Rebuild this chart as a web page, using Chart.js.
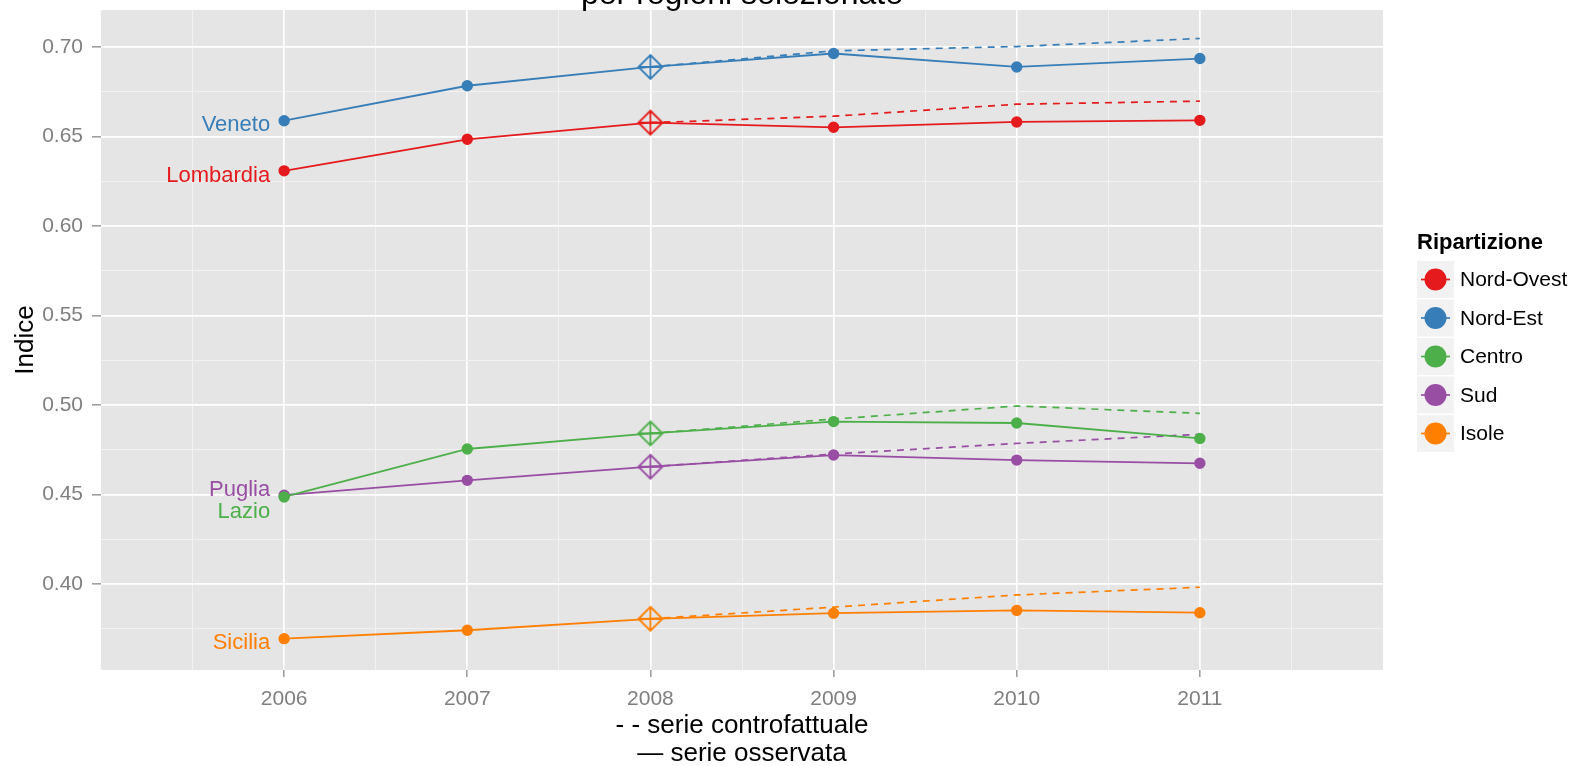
<!DOCTYPE html>
<html>
<head>
<meta charset="utf-8">
<title>Indice per regioni selezionate</title>
<script src="https://cdn.jsdelivr.net/npm/chart.js@4.4.1/dist/chart.umd.min.js"></script>
<style>
    html, body { margin: 0; padding: 0; background: #ffffff; }
    #wrap { position: relative; width: 1576px; height: 766px; }
</style>
</head>
<body>
<div id="wrap"><canvas id="chart" width="1576" height="766"></canvas></div>
<script>
// --- dati ---
const years = [2006, 2007, 2008, 2009, 2010, 2011];
const yearLabels = ['2006', '2007', '2008', '2009', '2010', '2011'];
const regions = ['Lombardia', 'Veneto', 'Lazio', 'Puglia', 'Sicilia'];
const ripartizioni = ['Nord-Ovest', 'Nord-Est', 'Centro', 'Sud', 'Isole'];

// serie osservata
const lombardiaObs = [0.6308, 0.6484, 0.6577, 0.6551, 0.6581, 0.6590];
const venetoObs    = [0.6588, 0.6783, 0.6888, 0.6963, 0.6888, 0.6935];
const lazioObs     = [0.4487, 0.4755, 0.4842, 0.4908, 0.4900, 0.4814];
const pugliaObs    = [0.4497, 0.4580, 0.4656, 0.4721, 0.4693, 0.4675];
const siciliaObs   = [0.3696, 0.3743, 0.3807, 0.3838, 0.3854, 0.3841];

// serie controfattuale (dal 2008)
const lombardiaCf = [null, null, 0.6577, 0.6613, 0.6680, 0.6697];
const venetoCf    = [null, null, 0.6888, 0.6978, 0.7002, 0.7047];
const lazioCf     = [null, null, 0.4842, 0.4922, 0.4995, 0.4954];
const pugliaCf    = [null, null, 0.4656, 0.4727, 0.4786, 0.4837];
const siciliaCf   = [null, null, 0.3807, 0.3872, 0.3940, 0.3983];

// assi
const xTicks = [2005.5, 2006, 2006.5, 2007, 2007.5, 2008, 2008.5, 2009, 2009.5, 2010, 2010.5, 2011, 2011.5];
const yTicks = [0.375, 0.40, 0.425, 0.45, 0.475, 0.50, 0.525, 0.55, 0.575, 0.60, 0.625, 0.65, 0.675, 0.70];
const yMajor = [0.40, 0.45, 0.50, 0.55, 0.60, 0.65, 0.70];
const yTickLabels = ['0.40', '0.45', '0.50', '0.55', '0.60', '0.65', '0.70'];

const observed = [lombardiaObs, venetoObs, lazioObs, pugliaObs, siciliaObs];
const counterfactual = [lombardiaCf, venetoCf, lazioCf, pugliaCf, siciliaCf];
const seriesColors = ['#E41A1C', '#377EB8', '#4DAF4A', '#984EA3', '#FF7F00'];

const FONT = '"Liberation Sans", Arial, Helvetica, sans-serif';
const diamondYear = 2008;

// rombo con croce (shape 9 di ggplot)
function diamondPlus(color) {
    const c = document.createElement('canvas');
    c.width = 28;
    c.height = 28;
    const g = c.getContext('2d');
    g.strokeStyle = color;
    g.lineWidth = 1.8;
    g.beginPath();
    g.moveTo(14, 2); g.lineTo(26, 14); g.lineTo(14, 26); g.lineTo(2, 14); g.closePath();
    g.moveTo(14, 2); g.lineTo(14, 26);
    g.moveTo(2, 14); g.lineTo(26, 14);
    g.stroke();
    return c;
}

const isMajorY = v => yMajor.some(m => Math.abs(m - v) < 1e-6);
const isMajorX = v => years.indexOf(v) !== -1;

const datasets = [];
regions.forEach((region, i) => {
    const color = seriesColors[i];
    const diamond = diamondPlus(color);
    datasets.push({
        label: region + ' controfattuale',
        data: years.map((yr, k) => ({ x: yr, y: counterfactual[i][k] })),
        borderColor: color,
        borderWidth: 1.7,
        borderDash: [7, 6],
        pointRadius: 0,
        fill: false,
        tension: 0,
        order: 2
    });
    datasets.push({
        label: region,
        data: years.map((yr, k) => ({ x: yr, y: observed[i][k] })),
        borderColor: color,
        backgroundColor: color,
        borderWidth: 1.8,
        pointRadius: 5,
        pointBorderWidth: 1.4,
        pointStyle: ctx => (ctx.raw && ctx.raw.x === diamondYear) ? diamond : 'circle',
        fill: false,
        tension: 0,
        order: 1
    });
});

// sfondo del pannello
const panelBackground = {
    id: 'panelBackground',
    beforeDraw(chart) {
        const { ctx, chartArea } = chart;
        ctx.save();
        ctx.fillStyle = '#E5E5E5';
        ctx.fillRect(chartArea.left, chartArea.top, chartArea.right - chartArea.left, chartArea.bottom - chartArea.top);
        ctx.restore();
    }
};

// titolo, etichette delle regioni e legenda
const labelOffsets = { Lombardia: 5, Veneto: 4, Lazio: 15, Puglia: -5, Sicilia: 4 };

const textLayer = {
    id: 'textLayer',
    afterDraw(chart) {
        const { ctx, chartArea } = chart;
        const xs = chart.scales.x;
        const ys = chart.scales.y;
        ctx.save();

        // titolo (tagliato in alto)
        ctx.fillStyle = '#000000';
        ctx.font = '32px ' + FONT;
        ctx.textAlign = 'center';
        ctx.textBaseline = 'alphabetic';
        ctx.fillText('per regioni selezionate', (chartArea.left + chartArea.right) / 2, 4);

        // etichette regioni a sinistra del 2006
        ctx.font = '22px ' + FONT;
        ctx.textAlign = 'right';
        ctx.textBaseline = 'middle';
        regions.forEach((region, i) => {
            const px = xs.getPixelForValue(years[0]) - 14;
            const py = ys.getPixelForValue(observed[i][0]) + labelOffsets[region];
            ctx.fillStyle = seriesColors[i];
            ctx.fillText(region, px, py);
        });

        // legenda
        const lx = chartArea.right + 34;
        ctx.textAlign = 'left';
        ctx.fillStyle = '#000000';
        ctx.font = 'bold 22px ' + FONT;
        ctx.fillText('Ripartizione', lx, 243);
        ripartizioni.forEach((name, i) => {
            const top = 261 + i * 38.5;
            const cy = top + 18.5;
            ctx.fillStyle = '#F2F2F2';
            ctx.fillRect(lx, top, 37, 37);
            ctx.strokeStyle = seriesColors[i];
            ctx.lineWidth = 1.7;
            ctx.beginPath();
            ctx.moveTo(lx + 4, cy);
            ctx.lineTo(lx + 33, cy);
            ctx.stroke();
            ctx.fillStyle = seriesColors[i];
            ctx.beginPath();
            ctx.arc(lx + 18.5, cy, 11, 0, Math.PI * 2);
            ctx.fill();
            ctx.fillStyle = '#000000';
            ctx.font = '21px ' + FONT;
            ctx.fillText(name, lx + 43, cy + 1);
        });
        ctx.restore();
    }
};

// niente margini extra calcolati da Chart.js: il pannello resta dove deve
const noScalePadding = s => {
    s.paddingTop = 0;
    s.paddingBottom = 0;
    s.paddingLeft = 0;
    s.paddingRight = 0;
};

new Chart(document.getElementById('chart'), {
    type: 'line',
    data: { datasets },
    options: {
        responsive: false,
        animation: false,
        events: [],
        layout: { padding: { top: 10, right: 193, bottom: 0, left: 0 } },
        plugins: {
            legend: { display: false },
            tooltip: { enabled: false },
            title: { display: false }
        },
        scales: {
            x: {
                type: 'linear',
                min: 2005,
                max: 2012,
                afterBuildTicks: s => { s.ticks = xTicks.map(v => ({ value: v })); },
                afterFit: s => { s.height = 96; noScalePadding(s); },
                border: { display: false },
                grid: {
                    color: ctx => (ctx.tick && isMajorX(ctx.tick.value)) ? '#FFFFFF' : '#F2F2F2',
                    lineWidth: ctx => (ctx.tick && isMajorX(ctx.tick.value)) ? 1.7 : 1,
                    tickColor: ctx => (ctx.tick && isMajorX(ctx.tick.value)) ? '#7F7F7F' : 'rgba(0,0,0,0)',
                    tickLength: 7,
                    tickWidth: 1.2
                },
                ticks: {
                    autoSkip: false,
                    maxRotation: 0,
                    padding: 10,
                    color: '#7F7F7F',
                    font: { family: FONT, size: 21 },
                    callback: v => {
                        const k = years.indexOf(v);
                        return k === -1 ? '' : yearLabels[k];
                    }
                },
                title: {
                    display: true,
                    text: ['- - serie controfattuale', '\u2014 serie osservata'],
                    color: '#000000',
                    font: { family: FONT, size: 26, lineHeight: 1.08 },
                    padding: { top: 0, bottom: -2 }
                }
            },
            y: {
                type: 'linear',
                min: 0.3521,
                max: 0.7206,
                afterBuildTicks: s => { s.ticks = yTicks.map(v => ({ value: v })); },
                afterFit: s => { s.width = 101; noScalePadding(s); },
                border: { display: false },
                grid: {
                    color: ctx => (ctx.tick && isMajorY(ctx.tick.value)) ? '#FFFFFF' : '#F2F2F2',
                    lineWidth: ctx => (ctx.tick && isMajorY(ctx.tick.value)) ? 1.7 : 1,
                    tickColor: ctx => (ctx.tick && isMajorY(ctx.tick.value)) ? '#7F7F7F' : 'rgba(0,0,0,0)',
                    tickLength: 9,
                    tickWidth: 1.2
                },
                ticks: {
                    autoSkip: false,
                    padding: 9,
                    color: '#7F7F7F',
                    font: { family: FONT, size: 21, lineHeight: 0.9 },
                    callback: v => {
                        const k = yMajor.findIndex(m => Math.abs(m - v) < 1e-6);
                        return k === -1 ? '' : yTickLabels[k];
                    }
                },
                title: {
                    display: true,
                    text: 'Indice',
                    color: '#000000',
                    font: { family: FONT, size: 26 },
                    padding: { top: 10, bottom: 0 }
                }
            }
        }
    },
    plugins: [panelBackground, textLayer]
});
</script>
</body>
</html>
